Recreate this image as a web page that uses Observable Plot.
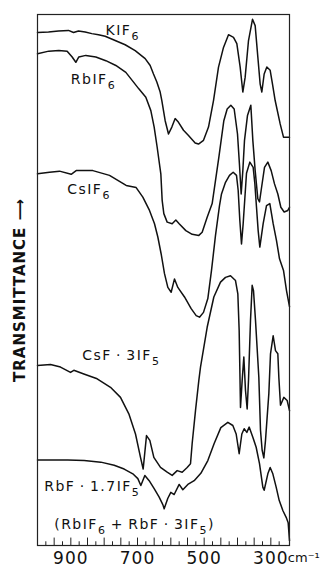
<!DOCTYPE html>
<html>
<head>
<meta charset="utf-8">
<script src="https://cdn.jsdelivr.net/npm/d3@7"></script>
<script src="https://cdn.jsdelivr.net/npm/@observablehq/plot@0.6"></script>
<style>
  html, body { margin: 0; padding: 0; background: #fff; }
  #chart svg { display: block; font-family: "DejaVu Sans", sans-serif; }
  g[aria-label="x-axis tick label"] text { letter-spacing: 1px; }
</style>
</head>
<body>
<div id="chart"></div>
<script>
// Wavenumber (cm^-1) and relative transmittance (arbitrary offset units, 0-100)
const KIF6 = [
  [1000,96.6],[967,96.7],[937,96.9],[907,97.0],[892,96.6],[877,96.9],[857,96.7],[837,96.4],
  [817,96.2],[797,95.9],[767,95.1],[737,94.3],[707,93.2],[677,91.7],[662,90.4],[652,88.8],
  [642,87.3],[632,85.4],[627,83.8],[617,80.0],[607,77.5],[597,78.8],[587,80.4],[577,79.7],
  [562,78.2],[547,77.2],[527,75.8],[517,75.6],[502,76.3],[487,78.8],[472,83.8],[457,90.1],
  [442,93.8],[427,96.2],[412,95.7],[402,94.5],[392,90.1],[384,85.4],[377,88.2],[367,95.1],
  [355,99.1],[347,97.9],[339,92.0],[332,86.9],[327,85.4],[320,88.8],[312,90.1],[302,89.5],
  [295,86.9],[287,83.8],[272,79.4],[262,76.9],[244,76.9]
];
const RbIF6 = [
  [1000,92.6],[966,93.1],[936,93.2],[911,93.1],[896,92.0],[885,91.0],[876,92.0],[855,92.3],
  [825,92.0],[795,91.3],[765,90.4],[735,89.1],[716,87.6],[696,86.0],[675,84.4],[660,81.9],
  [650,78.8],[641,75.0],[630,70.0],[626,65.0],[621,62.5],[611,60.9],[596,60.6],[585,61.3],
  [575,60.6],[555,59.3],[536,58.6],[516,58.4],[506,59.0],[491,61.8],[476,64.4],[456,73.1],
  [441,80.0],[431,82.2],[420,82.9],[410,82.2],[400,77.5],[394,71.6],[389,66.2],[384,70.6],
  [379,76.3],[370,81.0],[360,82.9],[354,76.3],[347,70.6],[339,65.3],[334,64.7],[329,66.9],
  [319,71.2],[309,72.2],[299,70.6],[289,68.1],[279,66.2],[270,63.7],[260,62.8],[249,63.1],
  [244,63.7]
];
const CsIF6 = [
  [1000,70.0],[964,70.3],[934,70.5],[899,69.9],[884,70.6],[834,70.6],[784,69.7],[734,67.8],
  [704,67.4],[684,65.6],[664,63.1],[649,60.6],[639,58.1],[629,54.9],[619,51.2],[609,48.6],
  [599,47.7],[589,50.2],[579,48.6],[559,46.8],[539,44.6],[524,43.3],[514,43.0],[502,43.9],
  [489,46.5],[478,51.8],[466,58.4],[454,64.0],[448,66.2],[436,68.4],[424,69.7],[413,70.3],
  [403,69.7],[398,66.9],[393,61.2],[388,56.8],[383,60.6],[373,70.1],[363,72.2],[353,71.2],
  [348,68.2],[343,63.7],[338,59.3],[333,56.2],[323,60.6],[313,64.0],[303,64.4],[298,62.5],
  [293,60.6],[283,57.4],[274,54.0],[262,51.8],[253,48.0],[244,45.0]
];
const CsF3IF5 = [
  [1000,33.9],[961,34.1],[931,33.6],[901,32.6],[891,33.0],[861,32.3],[821,31.4],[781,29.8],
  [751,27.9],[726,24.8],[706,21.0],[691,16.6],[683,14.4],[673,20.7],[663,19.8],[651,16.6],
  [631,14.7],[611,13.8],[596,13.2],[581,14.1],[566,13.8],[551,14.7],[541,15.4],[536,19.2],
  [526,25.4],[516,31.1],[511,33.6],[491,41.1],[471,46.8],[451,49.6],[436,50.5],[421,50.8],
  [406,49.9],[399,47.4],[395,40.5],[391,26.0],[386,31.1],[381,35.5],[376,29.2],[371,25.7],
  [367,31.1],[361,42.4],[356,49.0],[352,48.0],[346,42.4],[336,31.7],[331,21.7],[326,17.9],
  [321,16.5],[316,19.8],[306,28.6],[301,36.1],[293,39.5],[286,36.7],[279,36.1],[276,31.7],
  [271,26.4],[261,27.9],[251,27.3],[244,25.4]
];
const RbF17IF5 = [
  [1000,16.1],[960,16.1],[909,16.1],[860,16.0],[810,15.7],[770,15.1],[740,14.4],[714,13.5],
  [699,12.6],[690,11.3],[678,13.2],[665,12.2],[650,10.7],[635,9.1],[624,7.7],[620,6.9],
  [609,8.9],[600,10.0],[590,9.6],[575,11.5],[564,10.5],[549,11.5],[530,12.2],[510,13.6],
  [489,16.0],[470,19.2],[450,22.2],[429,23.2],[414,22.6],[404,21.0],[395,17.3],[387,21.0],
  [380,22.0],[372,21.3],[365,22.3],[354,20.4],[344,18.5],[334,15.4],[324,11.0],[320,10.4],
  [309,13.5],[302,14.7],[294,13.5],[284,11.0],[275,8.5],[264,6.6],[254,5.3],[248,4.3],
  [244,0.9]
];
const SERIES = [KIF6, RbIF6, CsIF6, CsF3IF5, RbF17IF5];
const LABELS = [
  {wn: 796, t: 97.0, text: "KIF_6"},
  {wn: 900, t: 87.8, text: "RbIF_6"},
  {wn: 911, t: 67.0, text: "CsIF_6"},
  {wn: 866, t: 35.8, text: "CsF\u2009·\u20093IF_5"},
  {wn: 980, t: 11.1, text: "RbF\u2009·\u20091.7IF_5"},
  {wn: 950, t: 4.0, text: "(RbIF_6\u2009+\u2009RbF\u2009·\u20093IF_5)"}
];
const TICK_LABELS = [900, 700, 500, 300];
const MAJOR_TICKS = [950, 900, 850, 800, 750, 700, 650, 600, 550, 500, 450, 400, 350, 300];
const MINOR_TICKS = [975, 925, 875, 825, 775, 725, 675, 625, 575, 525, 475, 425, 375, 325, 275];
const Y_LABEL = "TRANSMITTANCE \u27F6";
const UNIT = "cm\u207B\u00B9";

const marks = [];
SERIES.forEach(s => {
  marks.push(Plot.line(s, {x: d => d[0], y: d => d[1], stroke: "#111", strokeWidth: 1.5, strokeLinejoin: "round"}));
});
marks.push(
  Plot.frame({stroke: "#222", strokeWidth: 1.2}),
  Plot.ruleX(MAJOR_TICKS, {x: d => d, y1: 0, y2: 1.4, stroke: "#222", strokeWidth: 1}),
  Plot.ruleX(MINOR_TICKS, {x: d => d, y1: 0, y2: 0.7, stroke: "#222", strokeWidth: 1}),
  Plot.axisX(TICK_LABELS, {tickSize: 0, tickPadding: 6, fontSize: 17, label: null, tickFormat: d => String(d)}),
  Plot.text([300], {x: d => d, frameAnchor: "bottom", text: () => UNIT, textAnchor: "start", lineAnchor: "top", dx: 17, dy: 7, fontSize: 13}),
  Plot.text([Y_LABEL], {frameAnchor: "left", textAnchor: "middle", rotate: -90, dx: -17, dy: 10, fontSize: 15, fontWeight: "bold", text: d => d}),
  Plot.text(LABELS, {x: "wn", y: "t", text: "text", textAnchor: "start", lineAnchor: "middle", fontSize: 14, fill: "#111"})
);

const chart = Plot.plot({
  width: 321,
  height: 567,
  marginLeft: 37,
  marginRight: 32,
  marginTop: 14,
  marginBottom: 22,
  x: {domain: [1000, 244], axis: null, label: null},
  y: {domain: [0, 100], axis: null, label: null},
  style: {fontFamily: "DejaVu Sans, sans-serif", background: "#fff", color: "#111"},
  marks
});

// subscripts in label texts; spacing of the y label
const NS = "http://www.w3.org/2000/svg";
chart.querySelectorAll("text").forEach(t => {
  const s = t.textContent;
  if (s === Y_LABEL) { t.setAttribute("letter-spacing", "1"); return; }
  if (!s.includes("_")) return;
  t.textContent = "";
  const parts = s.split(/_(\d)/);
  parts.forEach((p, i) => {
    if (!p) return;
    const ts = document.createElementNS(NS, "tspan");
    ts.textContent = p;
    if (i % 2 === 1) { ts.setAttribute("dy", "5"); ts.setAttribute("font-size", "11"); }
    else if (i > 0) { ts.setAttribute("dy", "-5"); }
    t.appendChild(ts);
  });
  t.setAttribute("letter-spacing", "1.5");
});
document.getElementById("chart").appendChild(chart);
</script>
</body>
</html>
